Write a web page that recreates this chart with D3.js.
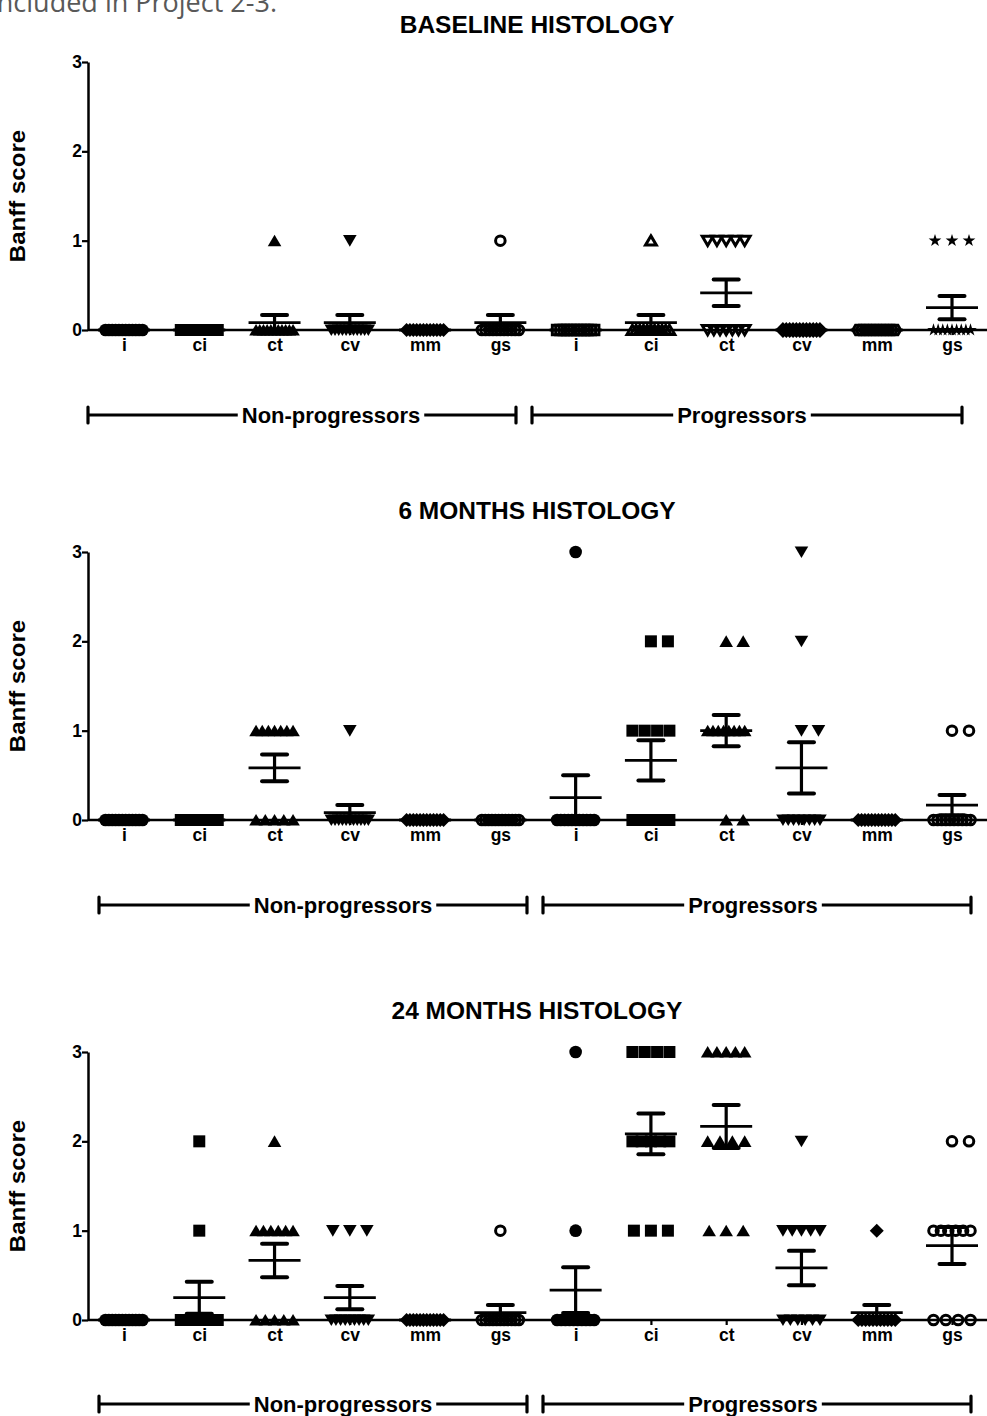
<!DOCTYPE html>
<html>
<head>
<meta charset="utf-8">
<script src="https://cdn.jsdelivr.net/npm/d3@7"></script>
<style>
    body { margin: 0; background: #fff; }
    svg { display: block; }
    text { font-family: "Liberation Sans", Arial, sans-serif; font-weight: bold; fill: #000; }
</style>
</head>
<body>
<svg id="chart" width="987" height="1416"></svg>
<script>
// columns: 6 Banff lesions for non-progressors, then the same 6 for progressors
const categories = ["i", "ci", "ct", "cv", "mm", "gs", "i", "ci", "ct", "cv", "mm", "gs"];
const groupNames = ["Non-progressors", "Progressors"];
const scoreTicks = [0, 1, 2, 3];

// number of patients with a score of 0, 1, 2, 3 in each column
const baselineCounts = [
    [12, 0, 0, 0], [12, 0, 0, 0], [11, 1, 0, 0], [11, 1, 0, 0], [12, 0, 0, 0], [11, 1, 0, 0],
    [12, 0, 0, 0], [11, 1, 0, 0], [7, 5, 0, 0], [12, 0, 0, 0], [12, 0, 0, 0], [9, 3, 0, 0]
];
const month6Counts = [
    [12, 0, 0, 0], [12, 0, 0, 0], [5, 7, 0, 0], [11, 1, 0, 0], [12, 0, 0, 0], [12, 0, 0, 0],
    [11, 0, 0, 1], [6, 4, 2, 0], [2, 8, 2, 0], [8, 2, 1, 1], [12, 0, 0, 0], [10, 2, 0, 0]
];
const month24Counts = [
    [12, 0, 0, 0], [10, 1, 1, 0], [5, 6, 1, 0], [9, 3, 0, 0], [12, 0, 0, 0], [11, 1, 0, 0],
    [10, 1, 0, 1], [0, 3, 5, 4], [0, 3, 4, 5], [6, 5, 1, 0], [11, 1, 0, 0], [4, 6, 2, 0]
];

const baselineSymbols = ["circle", "square", "triUp", "triDown", "diamond", "circleOpen",
    "squareOpen", "triUpOpen", "triDownOpen", "diamondOpen", "hexOpen", "star"];
const followUpSymbols = ["circle", "square", "triUp", "triDown", "diamond", "circleOpen",
    "circle", "square", "triUp", "triDown", "diamond", "circleOpen"];

const panels = [
    {title: "BASELINE HISTOLOGY", counts: baselineCounts, symbols: baselineSymbols,
        top: 62, bottom: 330, titleY: 33, bracketY: 415, brackets: [[88, 516, 331], [532, 962, 742]]},
    {title: "6 MONTHS HISTOLOGY", counts: month6Counts, symbols: followUpSymbols,
        top: 552, bottom: 820, titleY: 519, bracketY: 905, brackets: [[99, 527, 343], [543, 971, 753]]},
    {title: "24 MONTHS HISTOLOGY", counts: month24Counts, symbols: followUpSymbols,
        top: 1052, bottom: 1320, titleY: 1019, bracketY: 1404, brackets: [[99, 527, 343], [543, 971, 753]]}
];

const svg = d3.select("#chart");
const axisX = 88;

// text cut off at the top of the page
svg.append("text")
    .attr("x", -10)
    .attr("y", 12)
    .style("font-family", "'Open Sans', sans-serif")
    .style("font-weight", "normal")
    .style("font-size", "27px")
    .style("fill", "#595959")
    .text("included in Project 2-3.");

function symbolPath(type) {
    switch (type) {
        case "circle": return d3.symbol(d3.symbolCircle, 125)();
        case "circleOpen": return d3.symbol(d3.symbolCircle, 72)();
        case "square": return "M-6,-6h12v12h-12z";
        case "squareOpen": return "M-4.8,-4.8h9.6v9.6h-9.6z";
        case "triUp": return "M0,-6L6.8,5.6L-6.8,5.6Z";
        case "triUpOpen": return "M0,-4.8L5.4,4.4L-5.4,4.4Z";
        case "triDown": return "M0,6L6.8,-5.6L-6.8,-5.6Z";
        case "triDownOpen": return "M0,4.8L5.4,-4.4L-5.4,-4.4Z";
        case "diamond": return "M0,-7L7,0L0,7L-7,0Z";
        case "diamondOpen": return "M0,-5.8L5.8,0L0,5.8L-5.8,0Z";
        case "hexOpen": return "M-2.7,-4.7L2.7,-4.7L5.4,0L2.7,4.7L-2.7,4.7L-5.4,0Z";
        case "star": return d3.symbol(d3.symbolStar, 50)();
    }
}

function isOpen(type) {
    return type.indexOf("Open") >= 0;
}

// spread the points of one score side by side, like a scatter dot plot
function spread(k) {
    if (k === 1) return [0];
    if (k === 2) return [0, 17];
    let step = Math.min(17, 37 / (k - 1));
    let offsets = [];
    for (let j = 0; j < k; j++) {
        offsets.push(-step * (k - 1) / 2 + j * step);
    }
    return offsets;
}

function drawPanel(p) {
    let g = svg.append("g");

    let x = d3.scalePoint()
        .domain(d3.range(categories.length))
        .range([124, 952]);

    let y = d3.scaleLinear()
        .domain([0, 3])
        .range([p.bottom, p.top]);

    // title
    g.append("text")
        .attr("x", 537)
        .attr("y", p.titleY)
        .attr("text-anchor", "middle")
        .style("font-size", "24.5px")
        .text(p.title);

    // y axis
    let yAxis = g.append("g")
        .attr("transform", "translate(" + axisX + ",0)")
        .call(d3.axisLeft(y).tickValues(scoreTicks).tickFormat(d3.format("d")).tickSize(6).tickSizeOuter(0));
    yAxis.select(".domain").attr("stroke-width", 2.5);
    yAxis.selectAll(".tick line").attr("stroke-width", 2.2);
    yAxis.selectAll(".tick text")
        .attr("x", -6)
        .style("font-size", "17.5px")
        .style("font-family", "'Liberation Sans', Arial, sans-serif")
        .style("font-weight", "bold");

    g.append("text")
        .attr("transform", "translate(25," + ((p.top + p.bottom) / 2) + ") rotate(-90) scale(1.12,1)")
        .attr("text-anchor", "middle")
        .style("font-size", "21.5px")
        .text("Banff score");

    // x axis
    g.append("line")
        .attr("x1", axisX)
        .attr("x2", 987)
        .attr("y1", y(0))
        .attr("y2", y(0))
        .attr("stroke", "#000")
        .attr("stroke-width", 2.5);

    let xAxis = g.append("g")
        .attr("transform", "translate(0," + y(0) + ")")
        .call(d3.axisBottom(x).tickFormat(function (d) {
            return categories[d];
        }).tickSize(5).tickSizeOuter(0));
    xAxis.select(".domain").remove();
    xAxis.selectAll(".tick line").attr("stroke-width", 2.2);
    xAxis.selectAll(".tick text")
        .attr("y", 9)
        .style("font-size", "17.5px")
        .style("font-family", "'Liberation Sans', Arial, sans-serif")
        .style("font-weight", "bold");

    // points
    let points = [];
    let stats = [];
    p.counts.forEach(function (counts, col) {
        let values = [];
        counts.forEach(function (k, score) {
            if (k === 0) return;
            let offsets = spread(k);
            for (let j = 0; j < k; j++) {
                points.push({col: col, score: score, dx: offsets[j], symbol: p.symbols[col]});
                values.push(score);
            }
        });
        let mean = d3.mean(values);
        let sem = d3.deviation(values) / Math.sqrt(values.length);
        stats.push({col: col, mean: mean, sem: sem});
    });

    g.selectAll(".pt")
        .data(points)
        .enter().append("path")
        .attr("class", "pt")
        .attr("transform", function (d) {
            return "translate(" + (x(d.col) + d.dx) + "," + y(d.score) + ")";
        })
        .attr("d", function (d) {
            return symbolPath(d.symbol);
        })
        .attr("fill", function (d) {
            return isOpen(d.symbol) ? "none" : "#000";
        })
        .attr("stroke", function (d) {
            return isOpen(d.symbol) ? "#000" : "none";
        })
        .attr("stroke-width", 3);

    // mean and SEM
    let bars = g.selectAll(".bar")
        .data(stats)
        .enter().append("g")
        .attr("class", "bar");

    bars.append("line")
        .attr("x1", function (d) { return x(d.col); })
        .attr("x2", function (d) { return x(d.col); })
        .attr("y1", function (d) { return y(d.mean - d.sem); })
        .attr("y2", function (d) { return y(d.mean + d.sem); })
        .attr("stroke", "#000")
        .attr("stroke-width", 3.2);

    bars.append("line")
        .attr("x1", function (d) { return x(d.col) - 26; })
        .attr("x2", function (d) { return x(d.col) + 26; })
        .attr("y1", function (d) { return y(d.mean); })
        .attr("y2", function (d) { return y(d.mean); })
        .attr("stroke", "#000")
        .attr("stroke-width", 2.8);

    [-1, 1].forEach(function (sign) {
        bars.append("line")
            .attr("x1", function (d) { return x(d.col) - 12.5; })
            .attr("x2", function (d) { return x(d.col) + 12.5; })
            .attr("y1", function (d) { return y(d.mean + sign * d.sem); })
            .attr("y2", function (d) { return y(d.mean + sign * d.sem); })
            .attr("stroke", "#000")
            .attr("stroke-width", 4)
            .attr("stroke-linecap", "round");
    });

    // group brackets
    p.brackets.forEach(function (b, i) {
        let by = p.bracketY;
        let label = g.append("text")
            .attr("x", b[2])
            .attr("y", by + 7.5)
            .attr("text-anchor", "middle")
            .style("font-size", "22px")
            .text(groupNames[i]);
        let half = label.node().getComputedTextLength() / 2;
        [[b[0], b[2] - half - 4], [b[2] + half + 4, b[1]]].forEach(function (seg) {
            g.append("line")
                .attr("x1", seg[0]).attr("x2", seg[1])
                .attr("y1", by).attr("y2", by)
                .attr("stroke", "#000").attr("stroke-width", 3.2);
        });
        [b[0], b[1]].forEach(function (ex) {
            g.append("line")
                .attr("x1", ex).attr("x2", ex)
                .attr("y1", by - 8).attr("y2", by + 8)
                .attr("stroke", "#000").attr("stroke-width", 3.2)
                .attr("stroke-linecap", "round");
        });
    });
}

panels.forEach(drawPanel);
</script>
</body>
</html>
